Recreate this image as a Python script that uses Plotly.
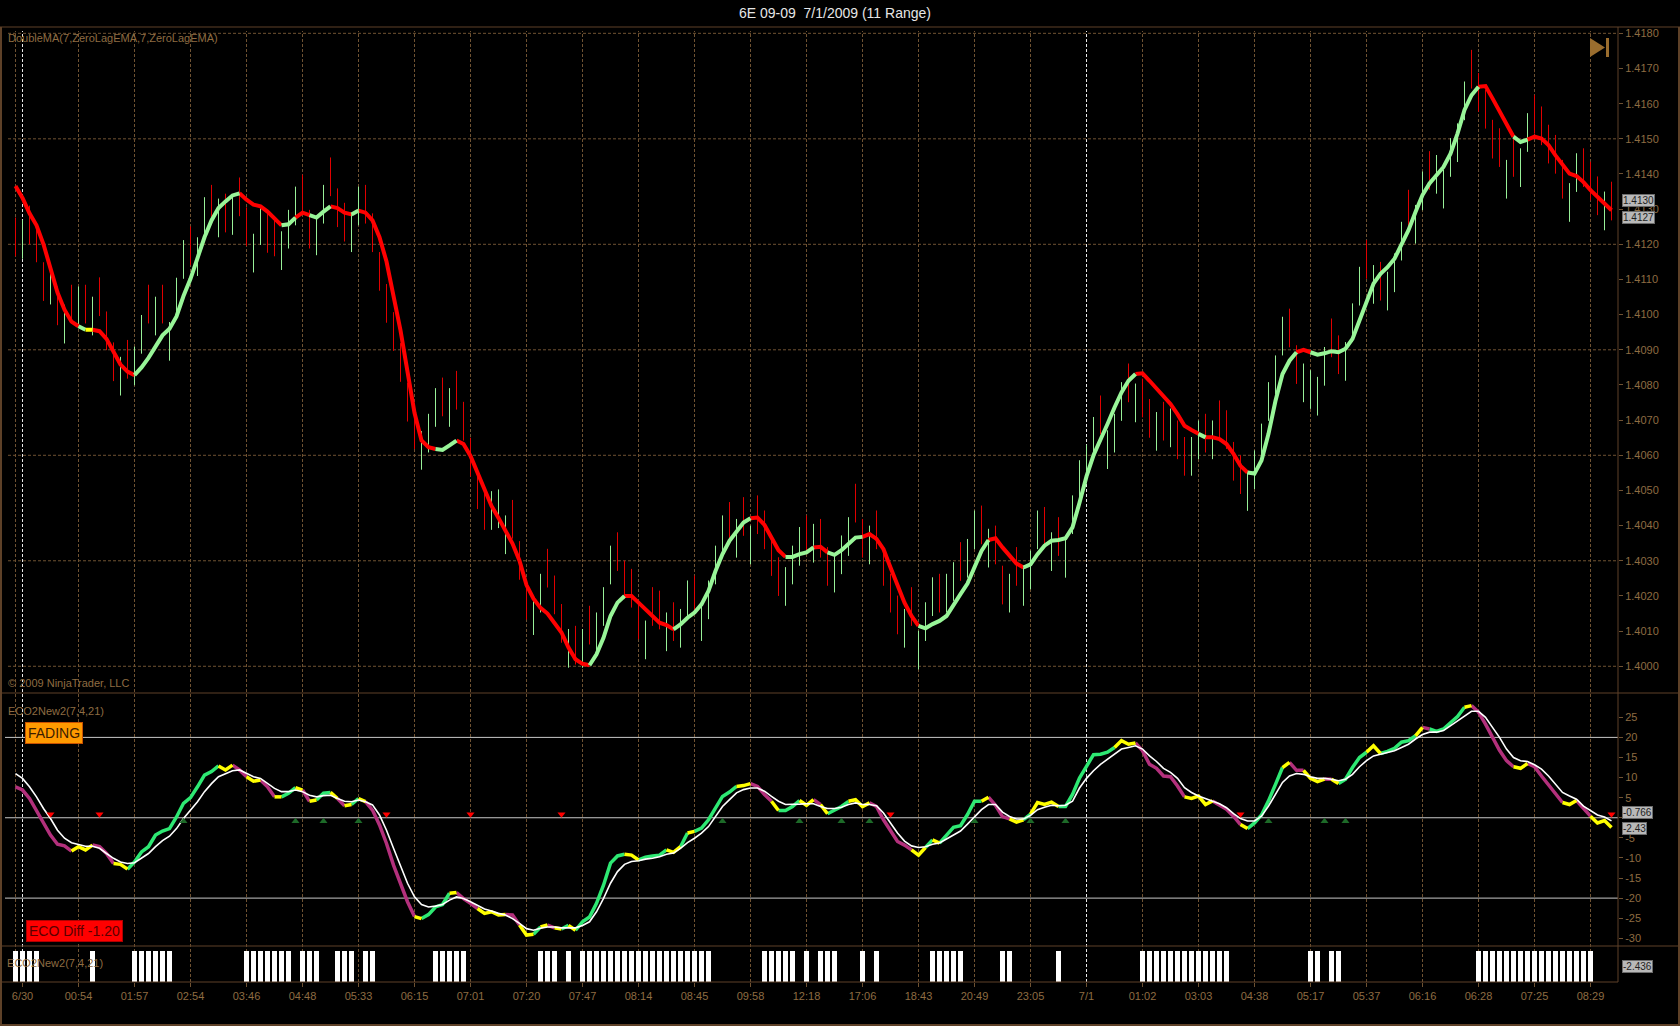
import plotly.graph_objects as go

# ── canvas / panel geometry (pixels of the 1680x1026 chart) ──────────────────
W, H = 1680, 1026
L, R, T, B = 1, 62, 27, 44          # plot area: x 1..1618, y 27..982
PW, PH = W - L - R, H - T - B

def px(x):
    return (x - L) / PW

def py(y):
    return (H - B - y) / PH

BROWN = '#6f5232'
TAN = '#8e6c42'
FONT = 'Arial, Liberation Sans, sans-serif'

# ── data (one value per range bar) ───────────────────────────────────────────
x_labels = ['6/30', '00:54', '01:57', '02:54', '03:46', '04:48', '05:33', '06:15', '07:01', '07:20',
            '07:47', '08:14', '08:45', '09:58', '12:18', '17:06', '18:43', '20:49', '23:05', '7/1',
            '01:02', '03:03', '04:38', '05:17', '05:37', '06:16', '06:28', '07:25', '08:29']
x_label_bars = [1, 9, 17, 25, 33, 41, 49, 57, 65, 73, 81, 89, 97, 105, 113, 121, 129, 137, 145, 153,
                161, 169, 177, 185, 193, 201, 209, 217, 225]
session_bars = [1, 153]
price_grid = [1.4000, 1.4030, 1.4060, 1.4090, 1.4120, 1.4150, 1.4180]
eco_ticks = [-30, -25, -20, -15, -10, -5, 0, 5, 10, 15, 20, 25]
eco_tick_text = ['-30', '-25', '-20', '-15', '-10', '-5', '', '5', '10', '15', '20', '25']
eco_levels = [20, 0, -20]
bar_range = 0.0011   # 11 tick range bars

bar_low = [
    1.41166, 1.41159, 1.41200, 1.41149, 1.41039, 1.41029, 1.40970, 1.40918, 1.40975, 1.40970,
    1.40975, 1.40941, 1.40996, 1.40899, 1.40811, 1.40770, 1.40818, 1.40799, 1.40889, 1.40975,
    1.40941, 1.40975, 1.40869, 1.40995, 1.41102, 1.41141, 1.41110, 1.41224, 1.41259, 1.41220,
    1.41234, 1.41227, 1.41280, 1.41195, 1.41120, 1.41198, 1.41176, 1.41166, 1.41127, 1.41188,
    1.41254, 1.41288, 1.41188, 1.41169, 1.41259, 1.41337, 1.41249, 1.41208, 1.41178, 1.41254,
    1.41259, 1.41178, 1.41068, 1.40977, 1.40897, 1.40809, 1.40696, 1.40618, 1.40559, 1.40608,
    1.40681, 1.40711, 1.40681, 1.40730, 1.40642, 1.40540, 1.40447, 1.40388, 1.40388, 1.40393,
    1.40319, 1.40363, 1.40246, 1.40133, 1.40089, 1.40153, 1.40224, 1.40148, 1.40067, 1.39996,
    1.40005, 1.39996, 1.40062, 1.40043, 1.40115, 1.40233, 1.40271, 1.40191, 1.40167, 1.40077,
    1.40020, 1.40115, 1.40105, 1.40043, 1.40072, 1.40053, 1.40134, 1.40148, 1.40072, 1.40134,
    1.40233, 1.40319, 1.40357, 1.40309, 1.40371, 1.40290, 1.40376, 1.40333, 1.40257, 1.40200,
    1.40172, 1.40233, 1.40286, 1.40319, 1.40295, 1.40309, 1.40229, 1.40210, 1.40262, 1.40314,
    1.40409, 1.40309, 1.40290, 1.40333, 1.40229, 1.40153, 1.40091, 1.40053, 1.40115, 1.39991,
    1.40072, 1.40143, 1.40153, 1.40153, 1.40186, 1.40243, 1.40252, 1.40333, 1.40347, 1.40281,
    1.40290, 1.40176, 1.40153, 1.40229, 1.40172, 1.40219, 1.40333, 1.40343, 1.40271, 1.40314,
    1.40252, 1.40376, 1.40476, 1.40520, 1.40599, 1.40660, 1.40561, 1.40608, 1.40698, 1.40751,
    1.40694, 1.40708, 1.40650, 1.40613, 1.40642, 1.40623, 1.40589, 1.40542, 1.40542, 1.40589,
    1.40608, 1.40589, 1.40646, 1.40618, 1.40528, 1.40490, 1.40442, 1.40504, 1.40580, 1.40698,
    1.40774, 1.40884, 1.40907, 1.40803, 1.40751, 1.40732, 1.40713, 1.40798, 1.40879, 1.40831,
    1.40812, 1.40922, 1.41026, 1.41102, 1.41031, 1.41040, 1.41012, 1.41064, 1.41154, 1.41245,
    1.41202, 1.41297, 1.41355, 1.41344, 1.41302, 1.41392, 1.41434, 1.41553, 1.41643, 1.41577,
    1.41529, 1.41444, 1.41420, 1.41330, 1.41392, 1.41363, 1.41463, 1.41515, 1.41482, 1.41430,
    1.41401, 1.41330, 1.41264, 1.41349, 1.41363, 1.41325, 1.41283, 1.41240, 1.41268,
]
# u = up bar (green), d = down bar (red)
bar_dir = ('dudddududu' 'duddduduud' 'uduuuduudu' 'dudduudduu' 'udduuddduu'
           'dddddddduu' 'ududdddduu' 'uddduudddu' 'duduuudddd' 'udduduuduu'
           'uudududddd' 'uuududduuu' 'dduddddudu' 'uuduuduudu' 'dduduuudud'
           'uuuuuduuud' 'uddududduu' 'dudddduuuu' 'uudduuuudd' 'uuududuuud'
           'uuduuuuudd' 'ddduduuddd' 'dduudddud')

double_ma = [
    1.41366, 1.41332, 1.41288, 1.41254, 1.41200, 1.41131, 1.41063, 1.41014, 1.40980, 1.40967,
    1.40957, 1.40957, 1.40953, 1.40931, 1.40892, 1.40858, 1.40838, 1.40828, 1.40850, 1.40877,
    1.40911, 1.40941, 1.40960, 1.40995, 1.41053, 1.41102, 1.41161, 1.41220, 1.41268, 1.41303,
    1.41322, 1.41339, 1.41345, 1.41327, 1.41313, 1.41308, 1.41293, 1.41273, 1.41254, 1.41257,
    1.41276, 1.41290, 1.41283, 1.41276, 1.41293, 1.41308, 1.41303, 1.41290, 1.41285, 1.41296,
    1.41290, 1.41268, 1.41220, 1.41151, 1.41053, 1.40955, 1.40838, 1.40721, 1.40642, 1.40623,
    1.40618, 1.40615, 1.40628, 1.40642, 1.40632, 1.40598, 1.40549, 1.40500, 1.40456, 1.40422,
    1.40388, 1.40349, 1.40300, 1.40231, 1.40192, 1.40166, 1.40150, 1.40122, 1.40096, 1.40053,
    1.40020, 1.40007, 1.40003, 1.40034, 1.40081, 1.40143, 1.40181, 1.40200, 1.40200, 1.40181,
    1.40162, 1.40143, 1.40124, 1.40117, 1.40105, 1.40119, 1.40138, 1.40153, 1.40176, 1.40214,
    1.40271, 1.40319, 1.40357, 1.40385, 1.40409, 1.40421, 1.40423, 1.40402, 1.40366, 1.40330,
    1.40311, 1.40311, 1.40319, 1.40324, 1.40338, 1.40340, 1.40324, 1.40317, 1.40330, 1.40349,
    1.40366, 1.40368, 1.40376, 1.40362, 1.40333, 1.40281, 1.40229, 1.40181, 1.40143, 1.40115,
    1.40108, 1.40120, 1.40129, 1.40143, 1.40176, 1.40205, 1.40235, 1.40281, 1.40328, 1.40359,
    1.40364, 1.40338, 1.40314, 1.40292, 1.40281, 1.40290, 1.40319, 1.40343, 1.40357, 1.40359,
    1.40364, 1.40395, 1.40465, 1.40540, 1.40600, 1.40642, 1.40689, 1.40736, 1.40779, 1.40812,
    1.40831, 1.40833, 1.40812, 1.40789, 1.40765, 1.40746, 1.40717, 1.40684, 1.40672, 1.40661,
    1.40651, 1.40651, 1.40646, 1.40632, 1.40604, 1.40570, 1.40551, 1.40548, 1.40585, 1.40661,
    1.40755, 1.40831, 1.40869, 1.40893, 1.40900, 1.40893, 1.40886, 1.40890, 1.40896, 1.40893,
    1.40903, 1.40931, 1.40983, 1.41040, 1.41088, 1.41116, 1.41135, 1.41159, 1.41197, 1.41240,
    1.41292, 1.41340, 1.41373, 1.41396, 1.41420, 1.41458, 1.41515, 1.41582, 1.41624, 1.41648,
    1.41650, 1.41615, 1.41577, 1.41539, 1.41506, 1.41491, 1.41498, 1.41506, 1.41501, 1.41482,
    1.41453, 1.41425, 1.41401, 1.41394, 1.41377, 1.41354, 1.41333, 1.41316, 1.41297,
]
# colour of the segment that ends on each bar: r = falling, g = rising, y = flat
ma_col = ('rrrrrrrrrr' 'gyrrrrrrgg' 'gggggggggg' 'gggrrrrrrg' 'grrgggrrrg'
          'rrrrrrrrrr' 'rgggrrrrrr' 'rrrrrrrrrr' 'rrrgggggrr' 'rrrrrggggg'
          'ggggggrrrr' 'rggggrrggg' 'ggrrrrrrrr' 'gggggggggg' 'rrrrrggggg'
          'gggggggggg' 'grrrrrrrrr' 'grrrrrrggg' 'ggggrrgggg' 'gggggggggg'
          'gggggggggg' 'rrrrrggrrr' 'rrrrrrrrr')

eco = [
    7.7, 6.9, 4.8, 1.9, -1.4, -4.3, -6.6, -7.0, -8.3, -7.2,
    -8.0, -6.8, -7.2, -8.9, -11.4, -11.6, -12.8, -11.0, -8.5, -7.2,
    -4.3, -3.3, -2.7, 0.2, 3.6, 5.0, 7.7, 10.6, 11.5, 12.9,
    11.9, 13.1, 11.9, 10.2, 9.1, 9.4, 7.7, 5.2, 5.2, 6.1,
    7.5, 6.9, 4.1, 4.4, 6.1, 6.3, 4.8, 3.0, 3.3, 4.8,
    4.0, 1.9, -1.8, -6.4, -11.8, -16.3, -20.9, -24.6, -25.1, -24.1,
    -22.2, -21.6, -18.8, -18.6, -20.1, -21.3, -22.6, -23.8, -23.4, -24.2,
    -24.1, -24.2, -26.7, -29.2, -29.0, -27.2, -26.7, -27.4, -27.7, -26.8,
    -28.0, -25.9, -24.7, -21.3, -16.8, -11.3, -9.5, -9.1, -9.3, -10.5,
    -9.8, -9.5, -9.3, -8.0, -8.6, -7.2, -3.8, -3.4, -2.6, -0.5,
    2.4, 5.3, 6.4, 7.8, 8.0, 8.5, 7.8, 5.8, 4.1, 1.8,
    1.8, 2.8, 4.3, 3.1, 4.5, 3.3, 1.0, 1.8, 2.8, 4.1,
    4.5, 2.8, 3.7, 2.8, -0.5, -3.4, -5.9, -6.8, -8.0, -9.3,
    -7.4, -5.5, -6.3, -4.3, -2.4, -2.0, 0.8, 4.1, 4.1, 5.1,
    3.1, 0.3, -0.3, -1.1, -0.5, 0.9, 3.8, 3.3, 3.9, 2.8,
    2.8, 5.8, 9.9, 12.8, 15.7, 15.8, 16.3, 17.5, 19.2, 18.3,
    18.6, 16.7, 13.3, 12.3, 10.4, 10.2, 7.9, 5.2, 4.8, 5.4,
    3.3, 4.2, 3.2, 2.1, 0.4, -1.7, -2.7, -1.3, 0.7, 4.2,
    8.3, 12.5, 13.8, 11.8, 11.8, 9.8, 9.0, 9.6, 9.6, 8.5,
    9.6, 12.5, 15.0, 16.3, 17.9, 16.0, 16.5, 17.3, 18.8, 19.2,
    20.4, 22.5, 22.1, 21.5, 22.1, 23.8, 25.2, 27.5, 27.9, 26.3,
    23.3, 20.0, 16.8, 14.2, 12.7, 12.3, 13.5, 12.7, 10.4, 8.2,
    6.0, 3.8, 3.3, 4.3, 2.5, 0.4, -1.3, -0.7, -2.43,
]
eco_signal = [
    11.0, 9.8, 7.7, 5.2, 2.3, -0.2, -3.1, -5.1, -6.2, -6.6,
    -7.1, -7.1, -7.6, -8.9, -10.1, -11.0, -11.4, -11.2, -10.1, -8.9,
    -7.2, -5.7, -4.6, -2.7, -0.2, 1.9, 4.0, 6.5, 8.5, 10.2,
    11.0, 11.7, 11.9, 11.0, 10.2, 9.8, 8.5, 7.3, 6.5, 6.5,
    6.9, 6.5, 5.6, 5.2, 5.5, 5.6, 4.8, 4.1, 4.0, 4.4,
    4.0, 3.2, 0.7, -3.1, -7.6, -12.2, -16.3, -19.7, -21.6, -22.2,
    -22.0, -21.6, -20.5, -19.7, -20.1, -20.9, -21.7, -22.7, -23.2, -23.8,
    -24.2, -25.1, -26.3, -27.6, -28.0, -27.5, -27.2, -27.2, -27.4, -27.4,
    -27.4, -26.8, -25.9, -23.4, -20.1, -16.3, -13.4, -11.6, -10.9, -10.7,
    -10.3, -10.1, -9.7, -9.1, -8.8, -7.6, -6.2, -5.1, -3.8, -2.2,
    0.3, 2.8, 4.5, 6.2, 7.0, 7.4, 7.4, 6.6, 5.3, 4.1,
    3.3, 3.3, 3.4, 3.5, 3.5, 2.8, 2.3, 2.3, 2.6, 3.3,
    3.7, 3.3, 3.3, 3.0, 1.2, -1.3, -3.8, -5.8, -7.0, -7.4,
    -7.2, -6.6, -6.3, -5.3, -4.3, -3.3, -1.6, 0.3, 2.0, 3.3,
    3.3, 1.4, 0.3, -0.3, -0.3, 0.6, 2.0, 2.6, 3.1, 3.0,
    3.1, 4.1, 7.4, 9.8, 11.7, 13.3, 14.6, 15.8, 17.1, 17.5,
    17.9, 17.1, 15.4, 14.0, 12.3, 11.3, 9.8, 7.5, 6.3, 5.4,
    4.8, 4.2, 3.5, 2.5, 1.0, -0.2, -0.8, -0.8, 0.4, 2.9,
    5.8, 8.8, 10.4, 11.0, 10.8, 10.2, 9.8, 9.8, 9.6, 9.2,
    9.6, 10.8, 12.7, 14.2, 15.4, 15.8, 16.3, 16.7, 17.5, 18.3,
    19.6, 20.7, 21.3, 21.3, 21.7, 22.9, 24.0, 25.4, 26.5, 26.5,
    25.0, 22.5, 20.0, 17.1, 15.0, 14.2, 14.0, 13.2, 12.1, 10.4,
    8.3, 6.3, 5.4, 4.6, 2.9, 1.7, 0.7, 0.2, -0.77,
]
# g = rising, m = falling, y = counter move
eco_col = ('mmmmmmmmmy' 'yymmmyyggg' 'gggggggggg' 'yymmyymmyg' 'gymyggymyg'
           'ymmmmmmmyg' 'gggymmmyyy' 'ymmyygymyg' 'ygggggggyy' 'ggggyygygg'
           'ggggyymmmy' 'gggyymyggg' 'yyymmmmmmy' 'ygyggggggy' 'mmmyygyyyy'
           'ggggggggyy' 'ymmmmmmmyy' 'yymmmmyggg' 'ggymmyyymy' 'ggggyygggg'
           'gymgggggym' 'mmmmmyymmm' 'mmyymmyyy')

signal_down = [5, 12, 53, 65, 78, 125, 175, 228]
signal_up = [24, 40, 44, 49, 101, 112, 118, 122, 137, 145, 150, 179, 187, 190]

hist_bars = [0, 1, 2, 3, 11, 17, 18, 19, 20, 21, 22, 33, 34, 35, 36, 37, 38, 39, 41, 42, 43,
             46, 47, 48, 50, 51, 60, 61, 62, 63, 64, 75, 76, 77, 79,
             81, 82, 83, 84, 85, 86, 87, 88, 89, 90, 91, 92, 93, 94, 95, 96, 97, 98, 99,
             107, 108, 109, 110, 111, 113, 115, 116, 117, 121, 123, 131, 132, 133, 134, 135,
             141, 142, 149, 161, 162, 163, 164, 165, 166, 167, 168, 169, 170, 171, 172, 173,
             185, 186, 188, 189, 209, 210, 211, 212, 213, 214, 215, 216, 217, 218, 219, 220,
             221, 222, 223, 224, 225]

n = len(double_ma)
bars = list(range(n))

MA_COLORS = {'r': '#ff0000', 'g': '#98f598', 'y': '#ffff00'}
ECO_COLORS = {'g': '#2ee873', 'm': '#b3307c', 'y': '#ffff00'}


def colored_runs(vals, cols, cmap, yaxis, width):
    # one trace per colour, runs of the same colour joined into polylines
    pts = {c: ([], []) for c in cmap}
    i = 1
    while i < len(vals):
        c = cols[i]
        j = i
        while j + 1 < len(vals) and cols[j + 1] == c:
            j += 1
        xs, ys = pts[c]
        xs += list(range(i - 1, j + 1)) + [None]
        ys += vals[i - 1:j + 1] + [None]
        i = j + 1
    return [go.Scatter(x=xs, y=ys, mode='lines', yaxis=yaxis, hoverinfo='skip',
                       line=dict(color=cmap[c], width=width), showlegend=False)
            for c, (xs, ys) in pts.items()]


fig = go.Figure()

# range bars
for d, col in (('u', '#98f098'), ('d', '#e00000')):
    xs, ys = [], []
    for i in bars:
        if bar_dir[i] == d:
            xs += [i, i, None]
            ys += [bar_low[i], bar_low[i] + bar_range, None]
    fig.add_trace(go.Scatter(x=xs, y=ys, mode='lines', yaxis='y', hoverinfo='skip',
                             line=dict(color=col, width=1), showlegend=False))

for tr in colored_runs(double_ma, ma_col, MA_COLORS, 'y', 4):
    fig.add_trace(tr)

# ECO panel
for tr in colored_runs(eco, eco_col, ECO_COLORS, 'y2', 3.5):
    fig.add_trace(tr)
fig.add_trace(go.Scatter(x=bars, y=eco_signal, mode='lines', yaxis='y2', hoverinfo='skip',
                         line=dict(color='#ffffff', width=1.6), showlegend=False))
fig.add_trace(go.Scatter(x=signal_down, y=[0.9] * len(signal_down), mode='markers', yaxis='y2',
                         marker=dict(symbol='triangle-down', size=7, color='#ff0000'),
                         hoverinfo='skip', showlegend=False))
fig.add_trace(go.Scatter(x=signal_up, y=[-0.9] * len(signal_up), mode='markers', yaxis='y2',
                         marker=dict(symbol='triangle-up', size=7, color='#1d6a28'),
                         hoverinfo='skip', showlegend=False))

# histogram panel (label sits under the bars)
fig.add_trace(go.Scatter(x=[-1.2], y=[0.58], mode='text', text=['ECO2New2(7,4,21)'],
                         textposition='middle right', yaxis='y3', hoverinfo='skip',
                         textfont=dict(family=FONT, size=11, color=TAN), showlegend=False))
fig.add_trace(go.Bar(x=hist_bars, y=[1] * len(hist_bars), yaxis='y3', width=0.72,
                     marker=dict(color='#ffffff', line=dict(width=0)),
                     hoverinfo='skip', showlegend=False))

# ── shapes: grid, levels, frame ─────────────────────────────────────────────
shapes = []
for b in [0] + [b for b in x_label_bars if b not in session_bars]:
    shapes.append(dict(type='line', xref='x', yref='paper', x0=b, x1=b, y0=0, y1=py(31),
                       line=dict(color=BROWN, width=1, dash='3px,2px'), layer='below'))
for b in session_bars:
    shapes.append(dict(type='line', xref='x', yref='paper', x0=b, x1=b, y0=0, y1=py(31),
                       line=dict(color='#e8e8e8', width=1, dash='3px,2px'), layer='below'))
for p in price_grid:
    shapes.append(dict(type='line', xref='paper', yref='y', x0=px(8), x1=1, y0=p, y1=p,
                       line=dict(color=BROWN, width=1, dash='3px,2px'), layer='below'))
for v in eco_levels:
    shapes.append(dict(type='line', xref='paper', yref='y2', x0=px(5), x1=1, y0=v, y1=v,
                       line=dict(color='#c8c8c8', width=1), layer='below'))
frame = '#5e4128'
for y in (27, 693, 946):
    shapes.append(dict(type='line', xref='paper', yref='paper', x0=px(0), x1=px(W), y0=py(y), y1=py(y),
                       line=dict(color=frame, width=1)))
shapes.append(dict(type='line', xref='paper', yref='paper', x0=px(0), x1=1, y0=0, y1=0,
                   line=dict(color=frame, width=1)))
shapes.append(dict(type='line', xref='paper', yref='paper', x0=1, x1=1, y0=0, y1=1,
                   line=dict(color=frame, width=1)))
for x in (1, W - 1):
    shapes.append(dict(type='line', xref='paper', yref='paper', x0=px(x), x1=px(x), y0=py(1025), y1=1,
                       line=dict(color=frame, width=2)))
shapes.append(dict(type='line', xref='paper', yref='paper', x0=px(0), x1=px(W), y0=py(1025), y1=py(1025),
                   line=dict(color=frame, width=2)))
# "go to last bar" icon
shapes.append(dict(type='path', xref='paper', yref='paper', fillcolor='#9a6d2e', line=dict(width=0),
                   path=f'M {px(1590)},{py(38)} L {px(1605)},{py(47.5)} L {px(1590)},{py(57)} Z'))
shapes.append(dict(type='rect', xref='paper', yref='paper', fillcolor='#9a6d2e', line=dict(width=0),
                   x0=px(1606), x1=px(1609), y0=py(57), y1=py(38)))

# ── annotations ─────────────────────────────────────────────────────────────
def label(text, x, y, **kw):
    d = dict(text=text, xref='paper', yref='paper', x=px(x), y=py(y), xanchor='left',
             yanchor='middle', showarrow=False, font=dict(family=FONT, size=11, color=TAN))
    d.update(kw)
    return d

def value_box(text, y, yref):
    return dict(text=text, xref='paper', yref=yref, x=px(1622), y=y, xanchor='left',
                yanchor='middle', showarrow=False, bgcolor='#b8b8b8', bordercolor='#6c6c6c',
                borderwidth=1, borderpad=0, font=dict(family=FONT, size=10, color='#1e1e1e'))

annotations = [
    label('DoubleMA(7,ZeroLagEMA,7,ZeroLagEMA)', 6, 38),
    label('© 2009 NinjaTrader, LLC', 6, 683),
    label('ECO2New2(7,4,21)', 6, 711),
    label('FADING', 25, 733, bgcolor='#ff9a00', bordercolor='#c85000', borderwidth=1, borderpad=2,
          font=dict(family=FONT, size=14, color='#3a1c00')),
    label('ECO Diff -1.20', 26, 931, bgcolor='#ff0000', bordercolor='#b00000', borderwidth=1,
          borderpad=2, font=dict(family=FONT, size=14, color='#5a0000')),
    value_box('1.4130', 1.41324, 'y'),
    value_box('1.4127', 1.41277, 'y'),
    value_box('-0.766', 1.2, 'y2'),
    value_box('-2.43', -2.6, 'y2'),
    value_box('-2.436', py(966), 'paper'),
]

fig.update_layout(
    width=W, height=H,
    margin=dict(l=L, r=R, t=T, b=B, autoexpand=False),
    paper_bgcolor='#000000', plot_bgcolor='#000000',
    font=dict(family=FONT, size=11, color=TAN),
    title=dict(text='6E 09-09 \u00a07/1/2009 (11 Range)', x=0.497, xanchor='center',
               y=1 - 13 / H, yanchor='middle', font=dict(family=FONT, size=14, color='#e6e6e6')),
    showlegend=False, bargap=0,
    xaxis=dict(range=[(L - 15.5) / 7, (W - R - 15.5) / 7], anchor='y3', showgrid=False, zeroline=False,
               tickvals=x_label_bars, ticktext=x_labels, ticks='outside', ticklen=4,
               tickcolor=BROWN, tickfont=dict(size=11, color=TAN), showline=False),
    yaxis=dict(domain=[py(693), 1], range=[1.39924, 1.41818], side='right', anchor='x',
               showgrid=False, zeroline=False, tick0=1.4, dtick=0.001, tickformat='.4f',
               ticks='outside', ticklen=4, tickcolor=BROWN, tickfont=dict(size=11, color=TAN)),
    yaxis2=dict(domain=[py(946), py(693)], range=[-31.92, 31.05], side='right', anchor='x',
                showgrid=False, zeroline=False, tickvals=eco_ticks, ticktext=eco_tick_text,
                ticks='outside', ticklen=4, tickcolor=BROWN, tickfont=dict(size=11, color=TAN)),
    yaxis3=dict(domain=[0, py(946)], range=[0, 1.16], side='right', anchor='x',
                showgrid=False, zeroline=False, showticklabels=False, ticks=''),
    shapes=shapes,
    annotations=annotations,
)

# page body has a default margin; remove it so the chart sits flush in the window
fig.write_html('out.html', config={'displayModeBar': False},
               post_script="document.body.style.margin='0';"
                           "document.body.style.background='#000';")
